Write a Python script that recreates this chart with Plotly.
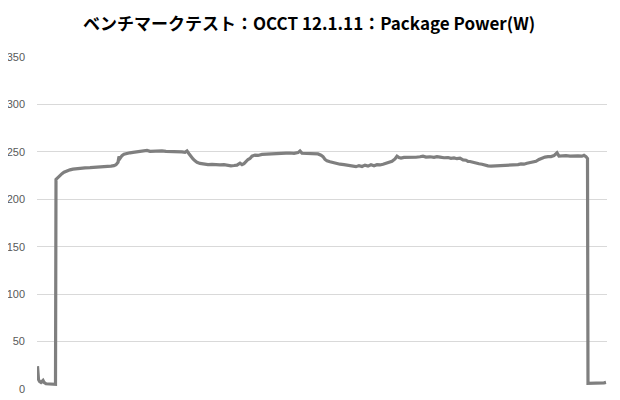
import plotly.graph_objects as go

# OCCT package power log (time index, watts)
time_idx = [
    0.5, 1.5, 2.5, 4, 6, 7, 9, 13, 18.5, 19, 20, 21, 23, 25, 27, 30, 33, 36, 39, 43,
    48, 53, 58, 63, 68, 71, 74, 77, 79, 81, 82, 83, 85, 87, 90, 93, 96, 99, 103, 107,
    110, 113, 117, 121, 125, 129, 133, 137, 141, 145, 148, 150, 152, 154, 156, 158, 160, 163, 167, 171,
    175, 179, 183, 187, 190, 194, 197, 200, 203, 205, 207, 209, 211, 213, 215, 218, 221, 225, 229, 233,
    237, 241, 245, 249, 253, 257, 261, 263, 265, 269, 273, 277, 281, 284, 286, 288, 290, 293, 296, 299,
    303, 307, 311, 315, 319, 322, 325, 328, 331, 334, 337, 340, 343, 346, 349, 352, 355, 358, 360, 362,
    364, 367, 371, 375, 379, 383, 386, 389, 393, 397, 400, 403, 407, 411, 414, 417, 420, 423, 426, 429,
    431, 433, 436, 439, 442, 445, 448, 451, 454, 457, 460, 463, 466, 469, 472, 475, 478, 481, 484, 487,
    490, 493, 496, 499, 502, 505, 508, 511, 514, 517, 520, 522, 525, 529, 533, 537, 541, 545, 547, 549,
    550.5, 551, 555, 560, 564, 567, 569,
]
power_w = [
    24, 10, 8, 7, 9, 7, 5.5, 5, 5, 221, 222, 224, 225.5, 227, 228.5, 230, 231, 231.8, 232.3, 232.8,
    233.2, 233.4, 233.6, 233.8, 234.2, 234.8, 235, 235.5, 236.5, 239, 245, 243, 246, 247.5, 248.5, 249, 249.5, 250, 250.3, 250.6,
    251.5, 250.5, 250.8, 250.4, 251, 250.6, 250.5, 250.8, 250.2, 250, 249.5, 251, 248, 245, 242.5, 240.5, 239, 237.8, 237, 236.5,
    236.8, 236.4, 236.2, 236.6, 235.8, 235.3, 235.6, 236, 238, 236.6, 237.5, 240, 242, 243, 245.5, 246.6, 246.2, 247.3, 247.6, 248,
    248.5, 248.3, 249, 248.6, 248.8, 248.4, 249.2, 251, 248.5, 248.2, 248, 247.5, 247.8, 246.5, 245, 242, 240.5, 239.5, 238.5, 237.8,
    237, 236.5, 236, 235, 234.4, 235.5, 234.6, 236, 235, 236.4, 235.4, 236.5, 236.2, 237, 237.8, 239, 240, 242.5, 245.5, 244,
    243.5, 244.2, 244, 244.6, 244.3, 244.8, 245.5, 244.5, 244.8, 244.2, 244.9, 244.5, 243.8, 244, 243.2, 243.6, 242.8, 243.3, 241.5, 241.2,
    240, 239.8, 238.8, 238.2, 237.5, 237, 235.8, 235.2, 235, 235.2, 235, 235.4, 235.2, 236, 236.4, 236.2, 236.8, 236.5, 237.3, 237,
    238, 238.4, 239, 240, 242, 243.5, 244.5, 245, 245, 246, 249, 245.5, 246, 246, 245.6, 246, 245.8, 245.5, 246.3, 245,
    243, 6, 6, 6, 6, 6.5, 7,
]

fig = go.Figure()
fig.add_trace(go.Scatter(
    x=time_idx, y=power_w, mode="lines",
    line=dict(color="#7f7f7f", width=3.2),
    hoverinfo="skip", showlegend=False,
))

# page body adds an 8px offset, so the figure is sized to 612x392
fig.update_layout(
    width=612, height=392,
    margin=dict(l=29, r=13, t=49, b=11),
    paper_bgcolor="white", plot_bgcolor="white",
    title=dict(
        text="<b>ベンチマークテスト：OCCT 12.1.11：Package Power(W)</b>",
        x=0.492, xanchor="center", y=0.96, yanchor="middle",
        font=dict(family="Noto Sans CJK JP", size=17, color="#000000"),
    ),
    font=dict(family="Liberation Sans", size=11, color="#595959"),
)
fig.update_xaxes(range=[0, 570], showgrid=False, showticklabels=False,
                 zeroline=False, showline=False, ticks="", automargin=False)
fig.update_yaxes(range=[0, 350], dtick=50, showgrid=True, gridcolor="#d9d9d9",
                 gridwidth=1, zeroline=False, showline=False, ticks="",
                 ticklabelstandoff=11, automargin=False)

fig.write_html("out.html")
